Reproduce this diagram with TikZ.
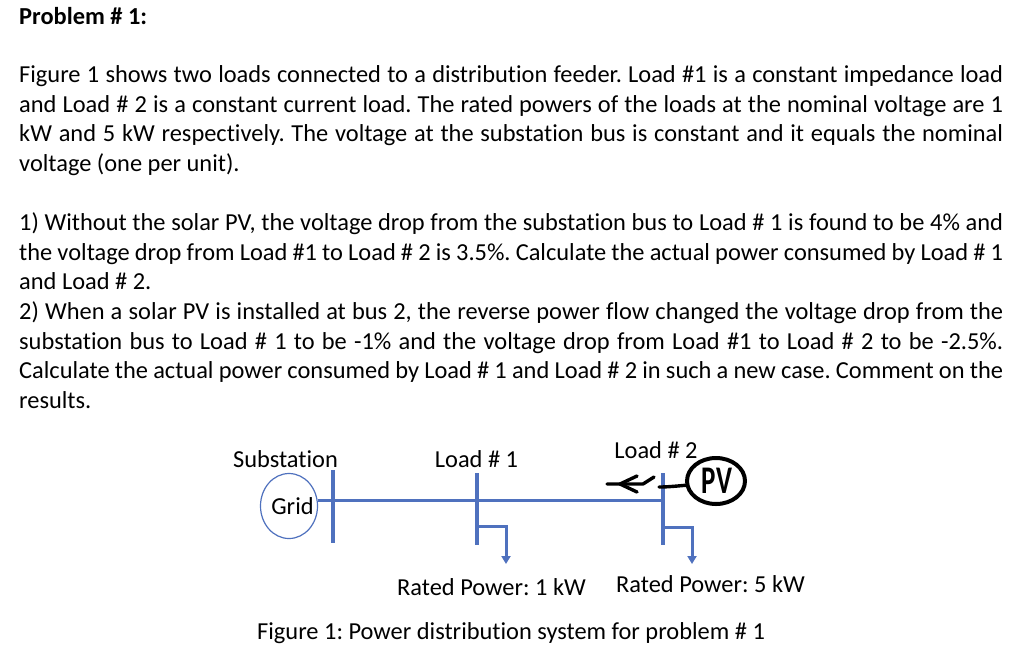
\documentclass[tikz,border=0pt]{standalone}
\usepackage{fontspec}
\setmainfont[Ligatures={NoCommon}]{Carlito}
\usetikzlibrary{arrows.meta,shapes.geometric}
\definecolor{busblue}{HTML}{4F71BE}
\frenchspacing
\tikzset{
  bodytext/.style={anchor=base west,inner sep=0pt,font=\fontsize{24.4}{24.4}\selectfont\frenchspacing},
  lbl/.style={inner sep=0pt,font=\fontsize{24.4}{24.4}\selectfont\frenchspacing},
  bus/.style={draw=busblue,line width=4pt},
  feeder/.style={draw=busblue,line width=3pt},
  branch/.style={draw=busblue,line width=3pt,-{Triangle[length=8pt,width=9pt]}},
  ink/.style={draw=black,line width=3.4pt,line cap=round,line join=round}
}
\newcommand{\jline}[3]{\node[bodytext] (#1) at (19,#2) {\makebox[984pt][s]{#3}};}
\newcommand{\pline}[3]{\node[bodytext] (#1) at (19,#2) {#3};}
\begin{document}
\begin{tikzpicture}[x=1pt,y=-1pt]
\useasboundingbox[fill=white] (0,0) rectangle (1024,664);
\pline{t0}{24}{\textbf{Problem \# 1:}}
\jline{t1}{82}{Figure 1 shows two loads connected to a distribution feeder. Load \#1 is a constant impedance load}
\jline{t2}{112}{and Load \# 2 is a constant current load. The rated powers of the loads at the nominal voltage are 1}
\jline{t3}{141}{kW and 5 kW respectively. The voltage at the substation bus is constant and it equals the nominal}
\pline{t4}{171}{voltage (one per unit).}
\jline{t5}{230}{1) Without the solar PV, the voltage drop from the substation bus to Load \# 1 is found to be 4\% and}
\jline{t6}{260}{the voltage drop from Load \#1 to Load \# 2 is 3.5\%. Calculate the actual power consumed by Load \# 1}
\pline{t7}{289}{and Load \# 2.}
\jline{t8}{319}{2) When a solar PV is installed at bus 2, the reverse power flow changed the voltage drop from the}
\jline{t9}{349}{substation bus to Load \# 1 to be -1\% and the voltage drop from Load \#1 to Load \# 2 to be -2.5\%.}
\jline{t10}{378}{Calculate the actual power consumed by Load \# 1 and Load \# 2 in such a new case. Comment on the}
\pline{t11}{408}{results.}
% network
\node[draw=busblue,line width=1.2pt,ellipse,minimum width=57pt,minimum height=65pt,inner sep=0pt] (grid) at (289,506) {};
\node[lbl] (gridtxt) at (292.5,506) {Grid};
\coordinate (s1) at (333,470); \coordinate (s2) at (333,543);
\coordinate (l1a) at (477,473); \coordinate (l1b) at (477,545);
\coordinate (l2a) at (663,473); \coordinate (l2b) at (663,545);
\coordinate (fe) at (663,500.7);
\coordinate (b1) at (477,526); \coordinate (b1c) at (506,526); \coordinate (b1t) at (506,564);
\coordinate (b2) at (663,527); \coordinate (b2c) at (692,527); \coordinate (b2t) at (692,564);
\draw[feeder] (grid.east |- fe) -- (fe);
\draw[bus] (s1) -- (s2);
\draw[bus] (l1a) -- (l1b);
\draw[bus] (l2a) -- (l2b);
\draw[branch] (b1) -- (b1c) -- (b1t);
\draw[branch] (b2) -- (b2c) -- (b2t);
\node[lbl] (subst) at (285.5,459) {Substation};
\node[lbl] (load1) at (476.5,459) {Load \# 1};
\node[lbl] (load2) at (656,450) {Load \# 2};
\node[lbl,anchor=base west] (rated1) at (397,595) {Rated Power: 1 kW};
\node[lbl,anchor=base west] (rated2) at (616,592) {Rated Power: 5 kW};
\node[lbl,anchor=base west] (cap) at (257,639) {Figure 1: Power distribution system for problem \# 1};
% hand-drawn PV
\node[draw=black,line width=4pt,ellipse,minimum width=58pt,minimum height=46pt,inner sep=0pt] (pv) at (716,481) {};
\node[inner sep=0pt,font=\fontsize{27}{27}\selectfont\bfseries] (pvtxt) at (717,481) {\scalebox{1}[1.45]{PV}};
\coordinate (pvj) at (659,487);
\draw[ink] (pv.188) .. controls (677,486) and (668,487) .. (pvj);
\coordinate (a0) at (654,477); \coordinate (a1) at (643,484); \coordinate (a2) at (607,484);
\coordinate (h1) at (637,476); \coordinate (h2) at (620,484); \coordinate (h3) at (637,492);
\draw[ink] (a0) -- (a1) -- (a2);
\draw[ink] (h1) -- (h2) -- (h3);
\end{tikzpicture}
\end{document}
